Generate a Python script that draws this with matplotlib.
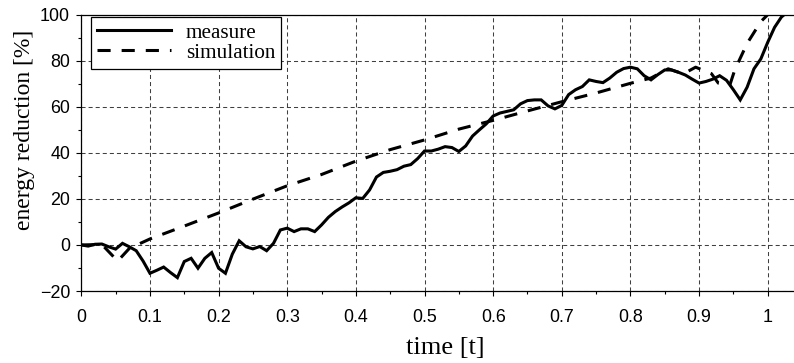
import numpy as np
import matplotlib
matplotlib.use("Agg")
import matplotlib.pyplot as plt
from matplotlib.ticker import MultipleLocator, FuncFormatter

# ---- data ----
measure_t = [0.00, 0.01, 0.02, 0.03, 0.04, 0.05, 0.06, 0.07, 0.08, 0.09,
             0.10, 0.11, 0.12, 0.13, 0.14, 0.15, 0.16, 0.17, 0.18, 0.19,
             0.20, 0.21, 0.22, 0.23, 0.24, 0.25, 0.26, 0.27, 0.28, 0.29,
             0.30, 0.31, 0.32, 0.33, 0.34, 0.35, 0.36, 0.37, 0.38, 0.39,
             0.40, 0.41, 0.42, 0.43, 0.44, 0.45, 0.46, 0.47, 0.48, 0.49,
             0.50, 0.51, 0.52, 0.53, 0.54, 0.55, 0.56, 0.57, 0.58, 0.59,
             0.60, 0.61, 0.62, 0.63, 0.64, 0.65, 0.66, 0.67, 0.68, 0.69,
             0.70, 0.71, 0.72, 0.73, 0.74, 0.75, 0.76, 0.77, 0.78, 0.79,
             0.80, 0.81, 0.82, 0.83, 0.84, 0.85, 0.86, 0.87, 0.88, 0.89,
             0.90, 0.91, 0.92, 0.93, 0.94, 0.95, 0.96, 0.97, 0.98, 0.99,
             1.00, 1.01, 1.02, 1.03]
measure_val = [0.0, -0.5, 0.3, 0.4, -0.8, -1.8, 0.7, -0.8, -2.5, -7.0,
               -12.3, -11.0, -9.6, -12.0, -14.2, -7.2, -5.8, -10.1, -5.8, -3.3,
               -10.1, -12.3, -4.0, 1.8, -0.8, -1.7, -0.7, -2.5, 0.7, 6.5,
               7.3, 5.8, 7.0, 7.0, 5.8, 8.7, 12.0, 14.5, 16.5, 18.3,
               20.5, 20.2, 23.9, 29.5, 31.5, 32.0, 32.7, 34.2, 34.9, 37.5,
               40.8, 40.8, 41.6, 42.7, 42.3, 40.6, 43.0, 47.3, 50.0, 52.6,
               56.0, 57.3, 58.0, 58.7, 61.3, 62.7, 63.0, 63.0, 60.4, 59.1,
               60.6, 65.3, 67.4, 68.8, 71.7, 71.0, 70.5, 72.5, 75.0, 76.6,
               77.2, 76.5, 73.5, 71.7, 74.0, 76.0, 76.0, 75.0, 73.8, 72.0,
               70.3, 71.0, 72.0, 73.5, 71.5, 67.4, 63.0, 68.5, 76.5, 80.8,
               88.0, 94.5, 99.0, 101.5]

sim_t = [0.00, 0.03, 0.053, 0.07, 0.10, 0.15, 0.20, 0.25, 0.30, 0.35,
         0.40, 0.45, 0.50, 0.55, 0.60, 0.65, 0.70, 0.75, 0.80, 0.83,
         0.855, 0.877, 0.895, 0.918, 0.928, 0.945, 0.952, 0.97, 0.99, 1.00,
         1.01]
sim_val = [0.0, 0.2, -7.0, -1.5, 2.6, 8.2, 13.9, 19.9, 25.7, 30.6,
           36.4, 41.4, 45.6, 50.3, 54.1, 58.2, 62.2, 66.0, 70.2, 72.5,
           76.5, 74.3, 77.2, 74.4, 70.3, 69.6, 76.0, 87.5, 97.0, 100.0,
           103.0]

x_ticks = [0.0, 0.1, 0.2, 0.3, 0.4, 0.5, 0.6, 0.7, 0.8, 0.9, 1.0]
y_ticks = [-20, 0, 20, 40, 60, 80, 100]

W, H = 794, 363
fig = plt.figure(figsize=(W / 100, H / 100), dpi=100)
ax_l, ax_r, ax_t, ax_b = 81.3, 794.0, 14.7, 291.0
ax = fig.add_axes([ax_l / W, 1 - ax_b / H, (ax_r - ax_l) / W, (ax_b - ax_t) / H])

lw = 2.2
ax.plot(measure_t, measure_val, color="black", lw=lw, solid_joinstyle="miter",
        label="measure", zorder=3)
ax.plot(sim_t, sim_val, color="black", lw=lw, dashes=(4.3, 3.6),
        label="simulation", zorder=3)

ax.set_xlim(0, (ax_r - ax_l) / 686.4)
ax.set_ylim(-20, 100)
ax.set_xticks(x_ticks)
ax.set_yticks(y_ticks)
ax.xaxis.set_minor_locator(MultipleLocator(0.05))
ax.yaxis.set_minor_locator(MultipleLocator(10))
ax.xaxis.set_major_formatter(FuncFormatter(lambda v, p: f"{v:g}"))

for lab in ax.get_xticklabels() + ax.get_yticklabels():
    lab.set_fontfamily("Liberation Sans")
    lab.set_fontsize(12.9)
ax.tick_params(which="major", direction="out", length=3.6, width=0.8,
               top=False, right=False)
ax.tick_params(which="minor", direction="out", length=2.2, width=0.8,
               top=False, right=False)
ax.tick_params(axis="x", which="major", pad=9)
ax.tick_params(axis="y", which="major", pad=4.5)

ax.grid(True, which="major", color="0.25", lw=0.75, ls=(0, (3.9, 2.9)))
ax.set_axisbelow(True)

for s in ["left", "bottom", "top"]:
    ax.spines[s].set_linewidth(0.9)
    ax.spines[s].set_color("black")
ax.spines["right"].set_visible(False)

ax.set_xlabel("time [t]", family="Liberation Serif", fontsize=19)
ax.set_ylabel("energy reduction [%]", family="Liberation Serif", fontsize=17)
ax.xaxis.set_label_coords((445.5 - ax_l) / (ax_r - ax_l), -(348 - ax_b) / (ax_b - ax_t))
ax.yaxis.set_label_coords(-(ax_l - 25) / (ax_r - ax_l), (ax_b - 130) / (ax_b - ax_t))
ax.xaxis.label.set_va("center")
ax.yaxis.label.set_va("center")

leg = ax.legend(loc="upper left",
                bbox_to_anchor=((90.7 - ax_l) / (ax_r - ax_l), 1 - (16.7 - ax_t) / (ax_b - ax_t)),
                borderaxespad=0, fancybox=False, framealpha=1, edgecolor="black",
                prop=dict(family="Liberation Serif", size=15.2),
                handlelength=3.5, handletextpad=0.7, borderpad=0.3,
                labelspacing=0.0)
leg.get_frame().set_linewidth(0.9)

fig.savefig("out.png", dpi=100)
